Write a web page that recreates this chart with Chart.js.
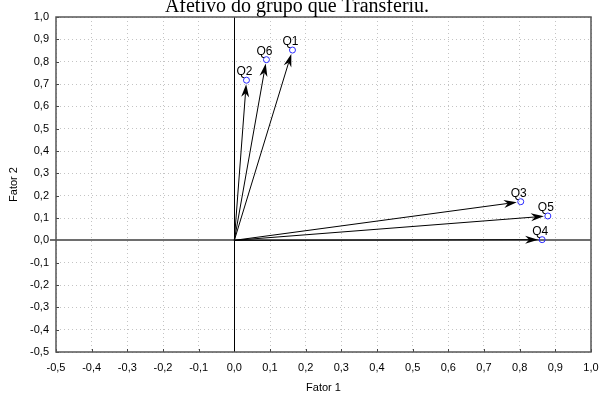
<!DOCTYPE html>
<html>
<head>
<meta charset="utf-8">
<script src="https://cdn.jsdelivr.net/npm/chart.js@4"></script>
<style>
  html, body { margin: 0; padding: 0; background: #fff; }
  #wrap { width: 600px; height: 394px; position: relative; }
</style>
</head>
<body>
<div id="wrap"><canvas id="chart" width="600" height="394"></canvas></div>
<script>
// dados (cargas fatoriais)
const labels = ['Q1', 'Q2', 'Q3', 'Q4', 'Q5', 'Q6'];
const fator1 = [0.163, 0.034, 0.803, 0.863, 0.879, 0.09];
const fator2 = [0.852, 0.717, 0.173, 0.003, 0.109, 0.809];
const titulo = 'Afetivo do grupo que Transferiu.';
const eixoX = 'Fator 1';
const eixoY = 'Fator 2';

const fmt = v => (Math.round(v * 10) / 10).toFixed(1).replace('.', ',');

const pontos = {
    label: 'pontos',
    data: labels.map((l, i) => ({ x: fator1[i], y: fator2[i] })),
    pointRadius: 3,
    pointBorderColor: '#2a2aff',
    pointBackgroundColor: 'rgba(0,0,0,0)',
    pointBorderWidth: 1
};

const setasPlugin = {
    id: 'setas',
    beforeDatasetsDraw(chart) {
        const { ctx, chartArea: a, scales: { x, y } } = chart;
        ctx.save();
        const x0 = Math.round(x.getPixelForValue(0)) + 0.5;
        const y0 = Math.round(y.getPixelForValue(0));
        // marcas internas dos eixos
        ctx.strokeStyle = '#444';
        ctx.lineWidth = 1;
        x.ticks.forEach(t => {
            const px = Math.round(x.getPixelForValue(t.value)) + 0.5;
            ctx.beginPath(); ctx.moveTo(px, a.bottom); ctx.lineTo(px, a.bottom - 3); ctx.stroke();
        });
        y.ticks.forEach(t => {
            const py = Math.round(y.getPixelForValue(t.value)) + 0.5;
            ctx.beginPath(); ctx.moveTo(a.left, py); ctx.lineTo(a.left + 3, py); ctx.stroke();
        });
        // linhas do zero
        ctx.strokeStyle = '#000';
        ctx.beginPath(); ctx.moveTo(x0, a.top); ctx.lineTo(x0, a.bottom); ctx.stroke();
        ctx.strokeStyle = '#6e6e6e';
        ctx.lineWidth = 2;
        ctx.beginPath(); ctx.moveTo(a.left - 6, y0); ctx.lineTo(a.right, y0); ctx.stroke();
        // moldura
        ctx.strokeStyle = '#555';
        ctx.lineWidth = 1.5;
        ctx.strokeRect(Math.round(a.left), Math.round(a.top),
            Math.round(a.right - a.left), Math.round(a.bottom - a.top));
        // vetores com ponta de seta
        ctx.fillStyle = '#000';
        ctx.strokeStyle = '#000';
        labels.forEach((l, i) => {
            const ox = x.getPixelForValue(0), oy = y.getPixelForValue(0);
            const px = x.getPixelForValue(fator1[i]), py = y.getPixelForValue(fator2[i]);
            const ang = Math.atan2(py - oy, px - ox);
            const tx = px - Math.cos(ang) * 4, ty = py - Math.sin(ang) * 4;
            const len = 13, w = 4;
            const bx = tx - Math.cos(ang) * len, by = ty - Math.sin(ang) * len;
            ctx.lineWidth = 1;
            ctx.beginPath(); ctx.moveTo(ox, oy); ctx.lineTo(bx + Math.cos(ang) * 4, by + Math.sin(ang) * 4); ctx.stroke();
            ctx.beginPath();
            ctx.moveTo(tx, ty);
            ctx.lineTo(bx + Math.sin(ang) * w, by - Math.cos(ang) * w);
            ctx.lineTo(bx + Math.cos(ang) * 4, by + Math.sin(ang) * 4);
            ctx.lineTo(bx - Math.sin(ang) * w, by + Math.cos(ang) * w);
            ctx.closePath();
            ctx.fill();
        });
        ctx.restore();
    },
    afterDatasetsDraw(chart) {
        const { ctx, scales: { x, y } } = chart;
        ctx.save();
        ctx.fillStyle = '#000';
        ctx.font = '12px "Liberation Sans", Arial, sans-serif';
        ctx.textAlign = 'center';
        ctx.textBaseline = 'alphabetic';
        labels.forEach((l, i) => {
            const px = x.getPixelForValue(fator1[i]), py = y.getPixelForValue(fator2[i]);
            ctx.fillText(l, px - 2, py - 5);
        });
        // título (cortado no topo, como no original)
        ctx.font = '20px "Liberation Serif", "Times New Roman", serif';
        ctx.fillText(titulo, 297, 12);
        ctx.restore();
    }
};

const tickFont = { family: '"Liberation Sans", Arial, sans-serif', size: 11 };

new Chart(document.getElementById('chart').getContext('2d'), {
    type: 'scatter',
    data: { datasets: [pontos] },
    options: {
        responsive: false,
        animation: false,
        layout: { padding: { top: 17, right: 9, left: 0, bottom: 0 } },
        plugins: { legend: { display: false }, tooltip: { enabled: false }, title: { display: false } },
        scales: {
            x: {
                min: -0.5, max: 1.0,
                afterFit: s => { s.height = 42; s.paddingLeft = 0; s.paddingRight = 0; },
                ticks: { stepSize: 0.1, color: '#000', font: tickFont, padding: 9, callback: v => fmt(v), maxRotation: 0, autoSkip: false },
                grid: { color: '#c4c4c4', drawTicks: false, tickLength: 0 },
                border: { display: false, dash: [1, 3] },
                title: { display: true, text: eixoX, color: '#000', font: tickFont, padding: { top: 0, bottom: -1 } }
            },
            y: {
                min: -0.5, max: 1.0,
                afterFit: s => { s.width = 56; s.paddingTop = 0; s.paddingBottom = 0; },
                ticks: { stepSize: 0.1, color: '#000', font: tickFont, padding: 7, callback: v => fmt(v), autoSkip: false },
                grid: { color: '#c4c4c4', drawTicks: false, tickLength: 0 },
                border: { display: false, dash: [1, 3] },
                title: { display: true, text: eixoY, color: '#000', font: tickFont, padding: { top: 7, bottom: 0 } }
            }
        }
    },
    plugins: [setasPlugin]
});
</script>
</body>
</html>
